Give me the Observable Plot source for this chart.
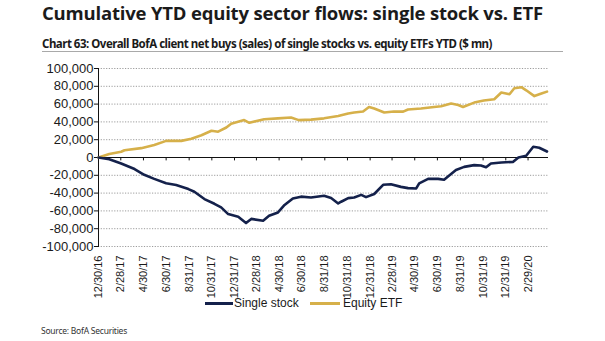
<!DOCTYPE html>
<html><head><meta charset="utf-8">
<script src="https://cdn.jsdelivr.net/npm/d3@7"></script>
<script src="https://cdn.jsdelivr.net/npm/@observablehq/plot@0.6"></script>
<style>
body{margin:0;background:#fff;width:605px;height:341px;overflow:hidden;position:relative;font-family:"Liberation Sans",Arial,sans-serif;color:#1a1a1a}
.fit{position:absolute;white-space:nowrap}
#title{left:42px;top:0px;font-family:"Open Sans";font-weight:700;font-size:18.5px;line-height:26px;color:#1b1b1b}
#subtitle{left:42px;top:36px;font-family:"Noto Sans";font-weight:700;font-size:11.5px;line-height:16px;color:#1b1b1b}
#rule{position:absolute;left:42px;top:50.5px;width:521px;height:1.6px;background:#a9a9a9}
#chart{position:absolute;left:0;top:55px}
.sw{position:absolute;height:3px;top:301.5px}
.lt{position:absolute;top:296px;font-size:12px;line-height:14px;color:#1a1a1a}
#source{left:41px;top:325px;font-family:"Noto Sans";font-size:8.5px;line-height:12px;color:#333}
</style></head>
<body>
<div id="title" class="fit">Cumulative YTD equity sector flows: single stock vs. ETF</div>
<div id="subtitle" class="fit">Chart 63: Overall BofA client net buys (sales) of single stocks vs. equity ETFs YTD ($ mn)</div>
<div id="rule"></div>
<div id="chart"></div>
<div id="legend">
  <div class="sw" style="left:205px;width:28px;background:#14214b"></div>
  <div class="lt" style="left:234px">Single stock</div>
  <div class="sw" style="left:310px;width:30px;background:#d6b04a"></div>
  <div class="lt" style="left:343px">Equity ETF</div>
</div>
<div id="source" class="fit">Source: BofA Securities</div>
<script>
const tickLabels = ["12/30/16","2/28/17","4/30/17","6/30/17","8/31/17","10/31/17","12/31/17","2/28/18","4/30/18","6/30/18","8/31/18","10/31/18","12/31/18","2/28/19","4/30/19","6/30/19","8/31/19","10/31/19","12/31/19","2/29/20"];
const yTicks = [-100000,-80000,-60000,-40000,-20000,0,20000,40000,60000,80000,100000];

const singleDates = ["2016-12-30","2017-01-28","2017-03-01","2017-04-06","2017-05-02","2017-05-29","2017-06-30","2017-07-27","2017-08-29","2017-09-14","2017-10-11","2017-11-07","2017-11-25","2017-12-14","2018-01-10","2018-01-31","2018-02-14","2018-03-18","2018-04-03","2018-04-27","2018-05-13","2018-06-06","2018-06-28","2018-07-25","2018-08-29","2018-09-17","2018-10-06","2018-10-14","2018-11-02","2018-11-18","2018-12-07","2018-12-20","2019-01-11","2019-02-04","2019-02-25","2019-03-24","2019-04-12","2019-05-04","2019-05-12","2019-06-05","2019-07-02","2019-07-18","2019-07-31","2019-08-19","2019-09-10","2019-10-07","2019-10-25","2019-11-08","2019-11-21","2019-12-19","2020-01-20","2020-02-03","2020-02-24","2020-03-14","2020-03-30","2020-04-20"];
const singleValues = [0,-2000,-6700,-13000,-19400,-24000,-29000,-31000,-35500,-38500,-46700,-52000,-56000,-63600,-66600,-73700,-69000,-71000,-65500,-61700,-54000,-46000,-44000,-45000,-43000,-45600,-51600,-49700,-45600,-45000,-42000,-44500,-41000,-30700,-30000,-33000,-34400,-34800,-29000,-24000,-24000,-25000,-20600,-14000,-10500,-8600,-9000,-11000,-6700,-5600,-4900,0,1900,12000,11000,6700];

const etfDates = ["2016-12-30","2017-01-28","2017-03-01","2017-03-10","2017-04-24","2017-05-29","2017-06-30","2017-08-10","2017-09-06","2017-10-03","2017-10-30","2017-11-17","2017-12-09","2017-12-22","2018-01-26","2018-02-09","2018-03-21","2018-04-27","2018-06-01","2018-06-22","2018-07-25","2018-08-29","2018-10-06","2018-11-02","2018-11-18","2018-12-12","2018-12-28","2019-01-11","2019-02-07","2019-03-05","2019-03-30","2019-04-12","2019-05-17","2019-06-21","2019-07-10","2019-08-06","2019-08-25","2019-09-07","2019-10-07","2019-11-02","2019-11-30","2019-12-19","2020-01-10","2020-01-23","2020-02-11","2020-02-24","2020-03-17","2020-04-05","2020-04-20"];
const etfValues = [0,4000,6500,8200,10500,14000,18700,18700,21000,25000,30000,29000,33700,38000,42000,39000,43000,44000,45000,42000,42600,44000,46700,49500,50500,51600,56800,55000,50500,51600,51600,54000,55000,56800,57500,60600,59000,56800,61700,64000,65500,73000,71000,77800,79000,75500,69000,71800,74000];

const parseISO = d3.utcParse("%Y-%m-%d");
const parseTick = d3.utcParse("%m/%d/%y");
const tickDates = tickLabels.map(parseTick);
const single = singleDates.map((d,i)=>({date:parseISO(d), value:singleValues[i]}));
const etf = etfDates.map((d,i)=>({date:parseISO(d), value:etfValues[i]}));
const yFmt = d => (d<0?"-":"") + d3.format(",")(Math.abs(d));

const chart = Plot.plot({
  width:605, height:243,
  marginLeft:98, marginRight:57, marginTop:13, marginBottom:52,
  style:{fontFamily:"'Liberation Sans', Arial, sans-serif", color:"#1a1a1a", background:"transparent"},
  x:{type:"utc", domain:[parseISO("2016-12-30"), parseISO("2020-04-24")], axis:null},
  y:{domain:[-100000,100000], axis:null},
  marks:[
    Plot.gridY(yTicks,{stroke:"#9c9c9c", strokeOpacity:1, strokeDasharray:"1.2,1.5", strokeWidth:1}),
    Plot.axisY(yTicks,{tickSize:4, tickPadding:1, fontSize:13, tickFormat:yFmt, stroke:"#111", label:null}),
    Plot.frame({anchor:"left", stroke:"#111"}),
    Plot.ruleY([0],{stroke:"#111", strokeWidth:1.2}),
    Plot.ruleX(tickDates,{x:d=>d, y1:0, y2:-3800, stroke:"#111"}),
    Plot.text(tickDates,{x:d=>d, text:(d,i)=>tickLabels[i], frameAnchor:"bottom", rotate:-90, textAnchor:"end", lineAnchor:"middle", dy:9, fontSize:11, fill:"#1a1a1a"}),
    Plot.line(etf,{x:"date", y:"value", stroke:"#d6b04a", strokeWidth:2.6}),
    Plot.line(single,{x:"date", y:"value", stroke:"#14214b", strokeWidth:2.6})
  ]
});
document.getElementById("chart").appendChild(chart);

function fit(id, target){
  const el = document.getElementById(id);
  const n = el.textContent.length;
  const w = el.getBoundingClientRect().width;
  el.style.letterSpacing = ((target - w) / n) + "px";
}
fit("title", 501);
fit("subtitle", 450);
fit("source", 86);
</script>
</body></html>
